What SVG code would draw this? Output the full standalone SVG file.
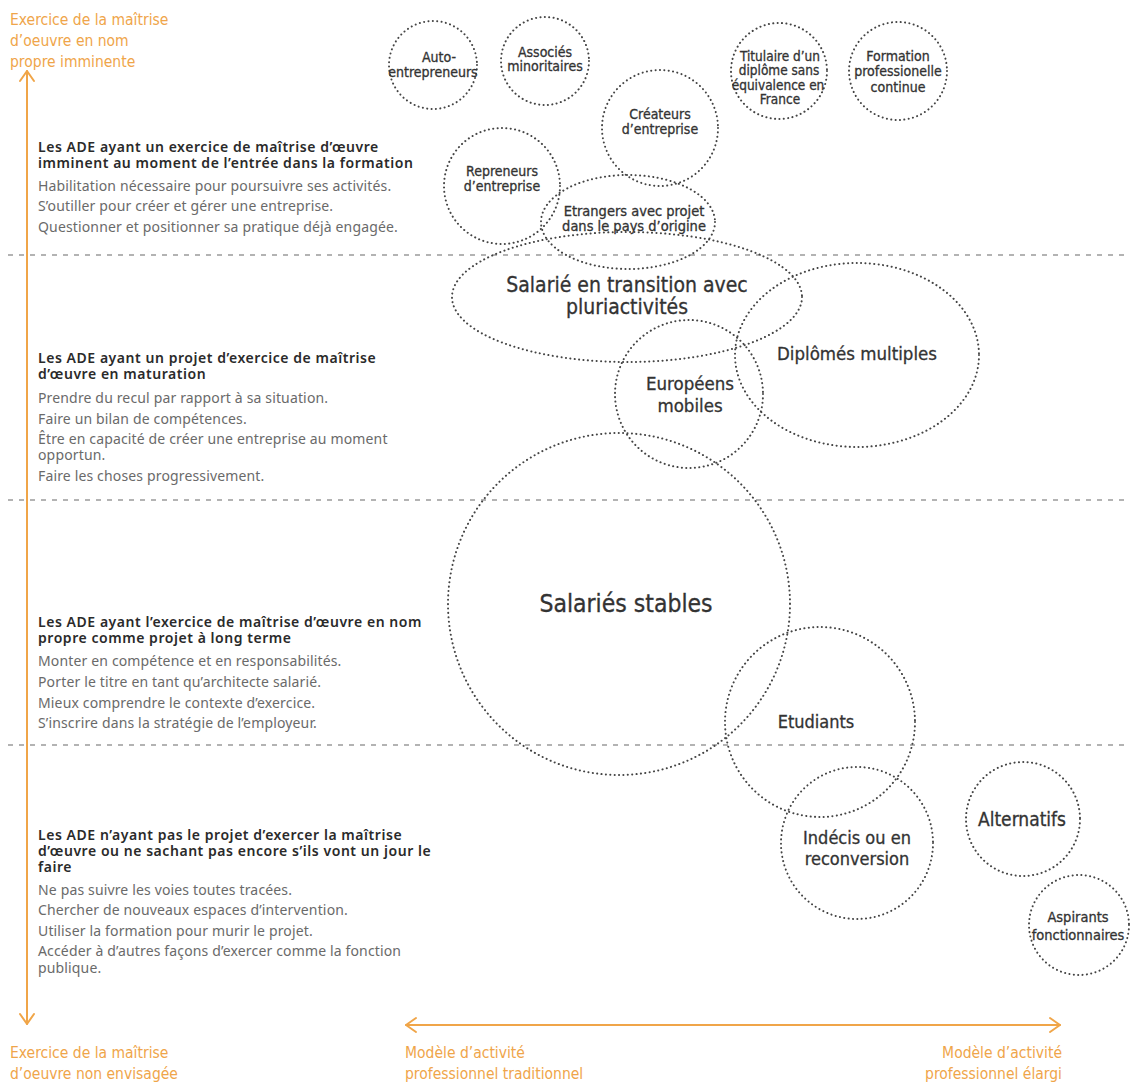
<svg xmlns="http://www.w3.org/2000/svg" width="1132" height="1083" viewBox="0 0 1132 1083">
<style>
.bg{fill:#fff}
.c{fill:none;stroke:#444;stroke-width:2;stroke-dasharray:0.1 4.3;stroke-linecap:round}
.sep{stroke:#9a9a9a;stroke-width:1.5;stroke-dasharray:5 6;fill:none}
.ax{stroke:#F0A548;stroke-width:2;fill:none;stroke-linecap:round;stroke-linejoin:round}
.or{font-family:"DejaVu Sans Condensed","Liberation Sans",sans-serif;font-size:15.5px;fill:#EFA54A;font-stretch:condensed}
.h{font-family:"Noto Sans","Liberation Sans",sans-serif;font-size:14px;fill:#2a2a2a;font-weight:600;letter-spacing:0.55px}
.b{font-family:"Noto Sans","Liberation Sans",sans-serif;font-size:14px;fill:#6a6a6a;letter-spacing:0.15px}
.l{font-family:"DejaVu Sans Condensed","Liberation Sans",sans-serif;fill:#333;text-anchor:middle;font-stretch:condensed;stroke:#333;stroke-width:0.3}
</style>
<rect class="bg" width="1132" height="1083"/>
<g id="separators">
<line class="sep" x1="8" y1="255" x2="1130" y2="255"/>
<line class="sep" x1="8" y1="500" x2="1130" y2="500"/>
<line class="sep" x1="8" y1="745" x2="1130" y2="745"/>
</g>
<g id="axes">
<line class="ax" x1="27" y1="71" x2="27" y2="1024"/>
<polyline class="ax" points="20,81 27,71 34,81"/>
<polyline class="ax" points="20,1014 27,1024 34,1014"/>
<line class="ax" x1="406" y1="1025" x2="1060" y2="1025"/>
<polyline class="ax" points="416,1018 406,1025 416,1032"/>
<polyline class="ax" points="1050,1018 1060,1025 1050,1032"/>
<text class="or" x="10" y="25">Exercice de la maîtrise</text>
<text class="or" x="10" y="46">d’oeuvre en nom</text>
<text class="or" x="10" y="67">propre imminente</text>
<text class="or" x="10" y="1058">Exercice de la maîtrise</text>
<text class="or" x="10" y="1079">d’oeuvre non envisagée</text>
<text class="or" x="405" y="1058">Modèle d’activité</text>
<text class="or" x="405" y="1079">professionnel traditionnel</text>
<text class="or" x="1062" y="1058" text-anchor="end">Modèle d’activité</text>
<text class="or" x="1062" y="1079" text-anchor="end">professionnel élargi</text>
</g>
<g id="block1">
<text class="h" x="38" y="152">Les ADE ayant un exercice de maîtrise d’œuvre</text>
<text class="h" x="38" y="168">imminent au moment de l’entrée dans la formation</text>
<text class="b" x="38" y="191">Habilitation nécessaire pour poursuivre ses activités.</text>
<text class="b" x="38" y="211">S’outiller pour créer et gérer une entreprise.</text>
<text class="b" x="38" y="232">Questionner et positionner sa pratique déjà engagée.</text>
</g>
<g id="block2">
<text class="h" x="38" y="363">Les ADE ayant un projet d’exercice de maîtrise</text>
<text class="h" x="38" y="379">d’œuvre en maturation</text>
<text class="b" x="38" y="403">Prendre du recul par rapport à sa situation.</text>
<text class="b" x="38" y="424">Faire un bilan de compétences.</text>
<text class="b" x="38" y="444">Être en capacité de créer une entreprise au moment</text>
<text class="b" x="38" y="460">opportun.</text>
<text class="b" x="38" y="481">Faire les choses progressivement.</text>
</g>
<g id="block3">
<text class="h" x="38" y="627">Les ADE ayant l’exercice de maîtrise d’œuvre en nom</text>
<text class="h" x="38" y="643">propre comme projet à long terme</text>
<text class="b" x="38" y="666">Monter en compétence et en responsabilités.</text>
<text class="b" x="38" y="687">Porter le titre en tant qu’architecte salarié.</text>
<text class="b" x="38" y="708">Mieux comprendre le contexte d’exercice.</text>
<text class="b" x="38" y="728">S’inscrire dans la stratégie de l’employeur.</text>
</g>
<g id="block4">
<text class="h" x="38" y="840">Les ADE n’ayant pas le projet d’exercer la maîtrise</text>
<text class="h" x="38" y="856">d’œuvre ou ne sachant pas encore s’ils vont un jour le</text>
<text class="h" x="38" y="872">faire</text>
<text class="b" x="38" y="895">Ne pas suivre les voies toutes tracées.</text>
<text class="b" x="38" y="915">Chercher de nouveaux espaces d’intervention.</text>
<text class="b" x="38" y="936">Utiliser la formation pour murir le projet.</text>
<text class="b" x="38" y="956">Accéder à d’autres façons d’exercer comme la fonction</text>
<text class="b" x="38" y="973">publique.</text>
</g>
<g id="auto">
<circle class="c" cx="433" cy="65" r="44"/>
<text class="l" font-size="14" x="439" y="62">Auto-</text>
<text class="l" font-size="14" x="433" y="77">entrepreneurs</text>
</g>
<g id="associes">
<circle class="c" cx="545" cy="61" r="44"/>
<text class="l" font-size="14" x="545" y="57">Associés</text>
<text class="l" font-size="14" x="545" y="71">minoritaires</text>
</g>
<g id="titulaire">
<circle class="c" cx="779" cy="71" r="48"/>
<text class="l" font-size="13.5" x="780" y="61">Titulaire d’un</text>
<text class="l" font-size="13.5" x="779" y="75">diplôme sans</text>
<text class="l" font-size="13.5" x="778" y="90">équivalence en</text>
<text class="l" font-size="13.5" x="780" y="104">France</text>
</g>
<g id="formation">
<circle class="c" cx="898" cy="71" r="49"/>
<text class="l" font-size="14" x="898" y="61">Formation</text>
<text class="l" font-size="14" x="898" y="76">professionelle</text>
<text class="l" font-size="14" x="898" y="92">continue</text>
</g>
<g id="createurs">
<circle class="c" cx="660" cy="128" r="58"/>
<text class="l" font-size="14" x="660" y="119">Créateurs</text>
<text class="l" font-size="14" x="660" y="134">d’entreprise</text>
</g>
<g id="repreneurs">
<circle class="c" cx="502" cy="186" r="58"/>
<text class="l" font-size="14" x="502" y="176">Repreneurs</text>
<text class="l" font-size="14" x="502" y="191">d’entreprise</text>
</g>
<g id="etrangers">
<ellipse class="c" cx="628" cy="222" rx="87" ry="47"/>
<text class="l" font-size="14.5" x="634" y="216">Etrangers avec projet</text>
<text class="l" font-size="14.5" x="634" y="231">dans le pays d’origine</text>
</g>
<g id="salarie-transition">
<ellipse class="c" cx="627" cy="297" rx="175" ry="65"/>
<text class="l" font-size="21" x="627" y="292">Salarié en transition avec</text>
<text class="l" font-size="21" x="627" y="314">pluriactivités</text>
</g>
<g id="diplomes">
<ellipse class="c" cx="857" cy="355" rx="122" ry="92"/>
<text class="l" font-size="18.5" x="857" y="360">Diplômés multiples</text>
</g>
<g id="europeens">
<circle class="c" cx="689" cy="394" r="74"/>
<text class="l" font-size="18.5" x="690" y="390">Européens</text>
<text class="l" font-size="18.5" x="690" y="412">mobiles</text>
</g>
<g id="salaries-stables">
<circle class="c" cx="619" cy="604" r="171"/>
<text class="l" font-size="24.5" x="626" y="612">Salariés stables</text>
</g>
<g id="etudiants">
<circle class="c" cx="820" cy="722" r="95"/>
<text class="l" font-size="18" x="816" y="728">Etudiants</text>
</g>
<g id="indecis">
<circle class="c" cx="857" cy="843" r="76"/>
<text class="l" font-size="18" x="857" y="844">Indécis ou en</text>
<text class="l" font-size="18" x="857" y="865">reconversion</text>
</g>
<g id="alternatifs">
<circle class="c" cx="1023" cy="819" r="57"/>
<text class="l" font-size="19" x="1022" y="826">Alternatifs</text>
</g>
<g id="aspirants">
<circle class="c" cx="1079" cy="925" r="50"/>
<text class="l" font-size="14.5" x="1078" y="922">Aspirants</text>
<text class="l" font-size="14.5" x="1078" y="940">fonctionnaires</text>
</g>
</svg>
